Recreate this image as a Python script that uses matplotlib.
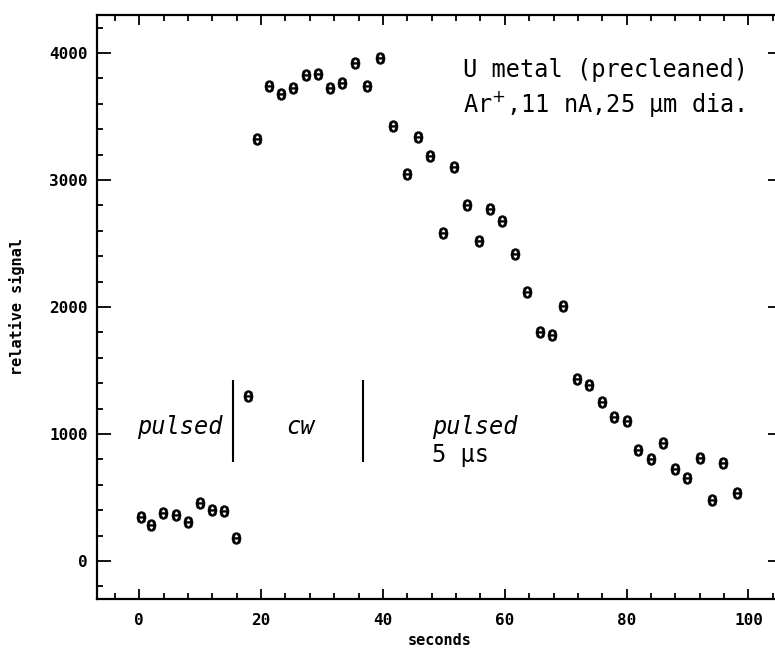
import numpy as np
import matplotlib
matplotlib.use("Agg")
import matplotlib.pyplot as plt
from matplotlib.ticker import MultipleLocator

# signal vs time (seconds, relative signal)
seconds = [0.2, 2.0, 3.9, 6.0, 8.0, 9.9, 11.9, 13.9, 15.9, 17.8,
           19.4, 21.3, 23.3, 25.2, 27.3, 29.3, 31.3, 33.3, 35.4, 37.4,
           39.5, 41.7, 43.9, 45.8, 47.7, 49.8, 51.6, 53.8, 55.7, 57.6,
           59.6, 61.7, 63.6, 65.8, 67.7, 69.6, 71.8, 73.9, 75.9, 78.0,
           80.0, 81.9, 84.0, 86.0, 88.0, 89.9, 92.1, 94.0, 95.8, 98.1]
signal = [349, 283, 380, 362, 310, 459, 402, 396, 179, 1302,
          3320, 3740, 3677, 3722, 3827, 3835, 3722, 3761, 3919, 3740,
          3958, 3425, 3047, 3341, 3189, 2580, 3105, 2803, 2522, 2772,
          2680, 2417, 2116, 1801, 1780, 2010, 1436, 1386, 1254, 1136,
          1102, 874, 803, 927, 722, 651, 809, 480, 774, 533]

# mode boundaries (s) and their vertical extent
boundaries = [15.4, 36.8]
bound_lo, bound_hi = 782, 1425

mono = "DejaVu Sans Mono"
plt.rcParams["font.family"] = mono

fig = plt.figure(figsize=(7.75, 6.53), dpi=100)
ax = fig.add_axes([0.1255, 0.0827, 0.8835, 0.8943])

ax.plot(seconds, signal, ls="none", marker=r"$\mathbf{θ}$", ms=8.5,
        mfc="k", mec="k", mew=0.3)
ax.vlines(boundaries, bound_lo, bound_hi, color="k", lw=1.5)

ax.set_xlim(-6.9, 105.5)
ax.set_ylim(-300, 4300)

ax.xaxis.set_major_locator(MultipleLocator(20))
ax.xaxis.set_minor_locator(MultipleLocator(4))
ax.yaxis.set_major_locator(MultipleLocator(1000))
ax.yaxis.set_minor_locator(MultipleLocator(200))

ax.tick_params(which="both", direction="in", top=True, right=True,
               width=1.3, colors="k")
ax.tick_params(axis="y", which="major", length=10, pad=7)
ax.tick_params(axis="y", which="minor", length=4.5)
ax.tick_params(axis="x", which="major", length=7, pad=10)
ax.tick_params(axis="x", which="minor", length=4)
for lab in ax.get_xticklabels() + ax.get_yticklabels():
    lab.set_fontsize(11.5)
    lab.set_fontweight("bold")

for sp in ax.spines.values():
    sp.set_linewidth(1.6)

ax.set_xlabel("seconds", fontsize=11, fontweight="bold", labelpad=4)
ax.set_ylabel("relative signal", fontsize=11, fontweight="bold", labelpad=17)

ax.text(53.2, 3866, "U metal (precleaned)", fontsize=17, va="center", ha="left")
ax.text(53.2, 3598, "Ar$^{+}$,11 nA,25 µm dia.", fontsize=17, va="center", ha="left")
ax.text(-0.4, 1058, "pulsed", fontsize=17, style="italic", va="center", ha="left")
ax.text(26.4, 1058, "cw", fontsize=17, style="italic", va="center", ha="center")
ax.text(48.0, 1058, "pulsed", fontsize=17, style="italic", va="center", ha="left")
ax.text(48.0, 835, "5 µs", fontsize=17, va="center", ha="left")

fig.savefig("out.png", dpi=100)
